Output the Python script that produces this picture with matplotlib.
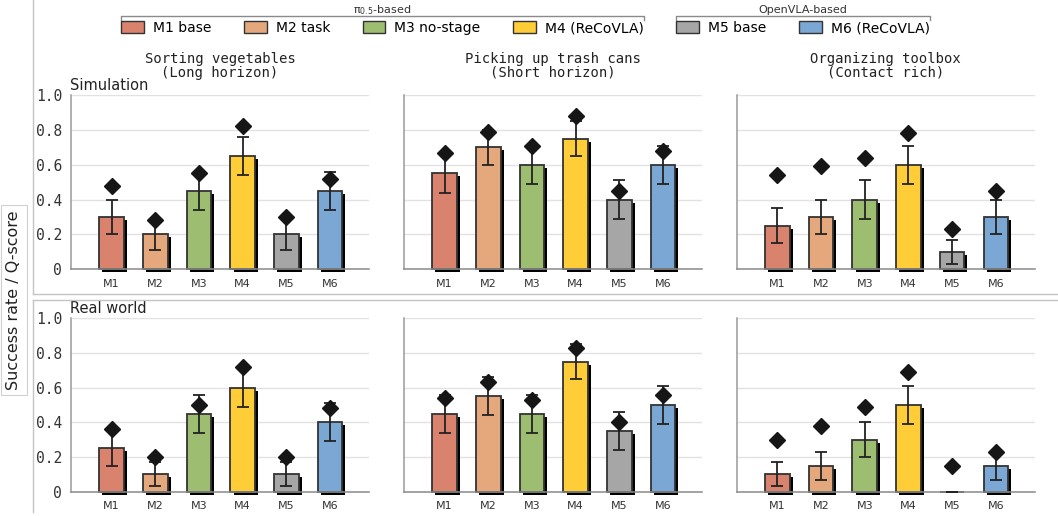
import matplotlib
matplotlib.use('Agg')
import numpy as np
import matplotlib.pyplot as plt
import matplotlib.patheffects as pe
from matplotlib.lines import Line2D
from matplotlib.patches import Patch

# * Models and labels
models = ['M1', 'M2', 'M3', 'M4', 'M5', 'M6']
legend_labels = ['M1 base', 'M2 task', 'M3 no-stage', 'M4 (ReCoVLA)', 'M5 base', 'M6 (ReCoVLA)']
colors = ['#d9836f', '#e4a87c', '#9dbd71', '#ffcd38', '#a6a6a6', '#7aa7d3']
tasks = ['Sorting vegetables\n(Long horizon)',
         'Picking up trash cans\n(Short horizon)',
         'Organizing toolbox\n(Contact rich)']
rows = ['Simulation', 'Real world']

# * Simulation: success rate (bars), error, Q-score (diamonds)
sim_rate = [[0.30, 0.20, 0.45, 0.65, 0.20, 0.45],
            [0.55, 0.70, 0.60, 0.75, 0.40, 0.60],
            [0.25, 0.30, 0.40, 0.60, 0.10, 0.30]]
sim_err = [[0.10, 0.09, 0.11, 0.11, 0.09, 0.11],
           [0.11, 0.10, 0.11, 0.10, 0.11, 0.11],
           [0.10, 0.10, 0.11, 0.11, 0.07, 0.10]]
sim_q = [[0.48, 0.28, 0.55, 0.82, 0.30, 0.52],
         [0.67, 0.79, 0.71, 0.88, 0.45, 0.68],
         [0.54, 0.59, 0.64, 0.78, 0.23, 0.45]]

# * Real world
real_rate = [[0.25, 0.10, 0.45, 0.60, 0.10, 0.40],
             [0.45, 0.55, 0.45, 0.75, 0.35, 0.50],
             [0.10, 0.15, 0.30, 0.50, 0.00, 0.15]]
real_err = [[0.10, 0.07, 0.11, 0.11, 0.07, 0.11],
            [0.11, 0.11, 0.11, 0.10, 0.11, 0.11],
            [0.07, 0.08, 0.10, 0.11, 0.00, 0.08]]
real_q = [[0.36, 0.20, 0.50, 0.72, 0.20, 0.48],
          [0.54, 0.63, 0.53, 0.83, 0.40, 0.56],
          [0.30, 0.38, 0.49, 0.69, 0.15, 0.23]]

yticks = [0, 0.2, 0.4, 0.6, 0.8, 1.0]
ytick_labels = ['0', '0.2', '0.4', '0.6', '0.8', '1.0']

W, H = 1058, 516
fig = plt.figure(figsize=(W / 100, H / 100), dpi=100)


def fx(px):
    return px / W


def fy(py):
    return 1 - py / H


lefts = [71, 404, 736.7]
row_y = [(95, 269.3), (318.3, 491.7)]
data = [(sim_rate, sim_err, sim_q), (real_rate, real_err, real_q)]
x = np.arange(len(models))

for r in range(2):
    top, bot = row_y[r]
    rate, err, q = data[r]
    for c in range(3):
        ax = fig.add_axes([fx(lefts[c]), fy(bot), 298 / W, (bot - top) / H])
        bars = ax.bar(x, rate[c], width=0.56, color=colors, edgecolor='#333333',
                      linewidth=1.3, clip_on=False, zorder=2)
        for b in bars:
            b.set_path_effects([pe.SimplePatchShadow(offset=(2.2, -2.2), shadow_rgbFace='black', alpha=1.0),
                                pe.Normal()])
        ax.errorbar(x, rate[c], yerr=err[c], fmt='none', ecolor='#222222',
                    elinewidth=1.3, capsize=4.6, capthick=1.3, zorder=3)
        ax.plot(x, q[c], linestyle='none', marker='D', markersize=8.6,
                color='#161616', zorder=4, clip_on=False)
        ax.set_xlim(-0.93, 5.89)
        ax.set_ylim(0, 1.0)
        ax.set_xticks(x)
        ax.set_xticklabels(models)
        ax.set_yticks(yticks)
        if c == 0:
            ax.set_yticklabels(ytick_labels, family='DejaVu Sans Mono')
            ax.text(-0.003, 1.03, rows[r], transform=ax.transAxes, ha='left',
                    va='baseline', fontsize=10.5, color='#222222')
        else:
            ax.set_yticklabels([])
        ax.tick_params(axis='x', length=0, pad=7, labelsize=8, labelcolor='#333333')
        ax.tick_params(axis='y', length=0, pad=6.5, labelsize=10.5, labelcolor='#333333')
        ax.yaxis.grid(True, color='#e2e2e2', linewidth=1)
        ax.set_axisbelow(True)
        for s in ['top', 'right']:
            ax.spines[s].set_visible(False)
        ax.spines['left'].set_color('#9a9a9a')
        ax.spines['bottom'].set_color('#8a8a8a')
        ax.spines['left'].set_linewidth(1.1)
        ax.spines['bottom'].set_linewidth(1.1)
        if r == 0:
            ax.set_title(tasks[c], family='DejaVu Sans Mono', fontsize=10,
                         linespacing=1.0, pad=13, color='#222222')

# * Subfigure frames
frame_c = '#c4c4c4'
fig.add_artist(Line2D([fx(32.5), fx(32.5)], [1.0, fy(294.3)], color=frame_c, lw=1))
fig.add_artist(Line2D([fx(32.5), 1.0], [fy(294.3), fy(294.3)], color=frame_c, lw=1))
fig.add_artist(Line2D([fx(32.5), 1.0], [fy(300), fy(300)], color=frame_c, lw=1))
fig.add_artist(Line2D([fx(32.5), fx(32.5)], [fy(300), fy(512)], color=frame_c, lw=1))

# * Shared y label
fig.text(fx(14), fy(300), 'Success rate / Q-score', rotation=90, ha='center', va='center',
         fontsize=11.5, color='#222222',
         bbox=dict(boxstyle='square,pad=0.35', fc='white', ec='#d0d0d0', lw=0.8))

# * Legend
handles = [Patch(facecolor=col, edgecolor='#333333', linewidth=1) for col in colors]
leg = fig.legend(handles, legend_labels, loc='center', bbox_to_anchor=(fx(525.5), fy(28)),
                 ncol=6, frameon=False, fontsize=10, handlelength=1.63, handleheight=0.96,
                 handletextpad=0.65, columnspacing=2.35, borderaxespad=0, borderpad=0)

fig.canvas.draw()
inv = fig.transFigure.inverted()


def bracket(i0, i1, label):
    x0 = leg.legend_handles[i0].get_window_extent().x0
    x1 = leg.get_texts()[i1].get_window_extent().x1
    (fx0, _), (fx1, _) = inv.transform([(x0, 0), (x1, 0)])
    yb, yt = fy(15.7), fy(19.5)
    fig.add_artist(Line2D([fx0, fx0, fx1, fx1], [yt, yb, yb, yt], color='#8a8a8a', lw=1))
    fig.text((fx0 + fx1) / 2, fy(13.2), label, ha='center', va='baseline', fontsize=8,
             color='#333333')


bracket(0, 3, 'π$_{0.5}$-based')
bracket(4, 5, 'OpenVLA-based')

fig.savefig('out.png', dpi=100)
